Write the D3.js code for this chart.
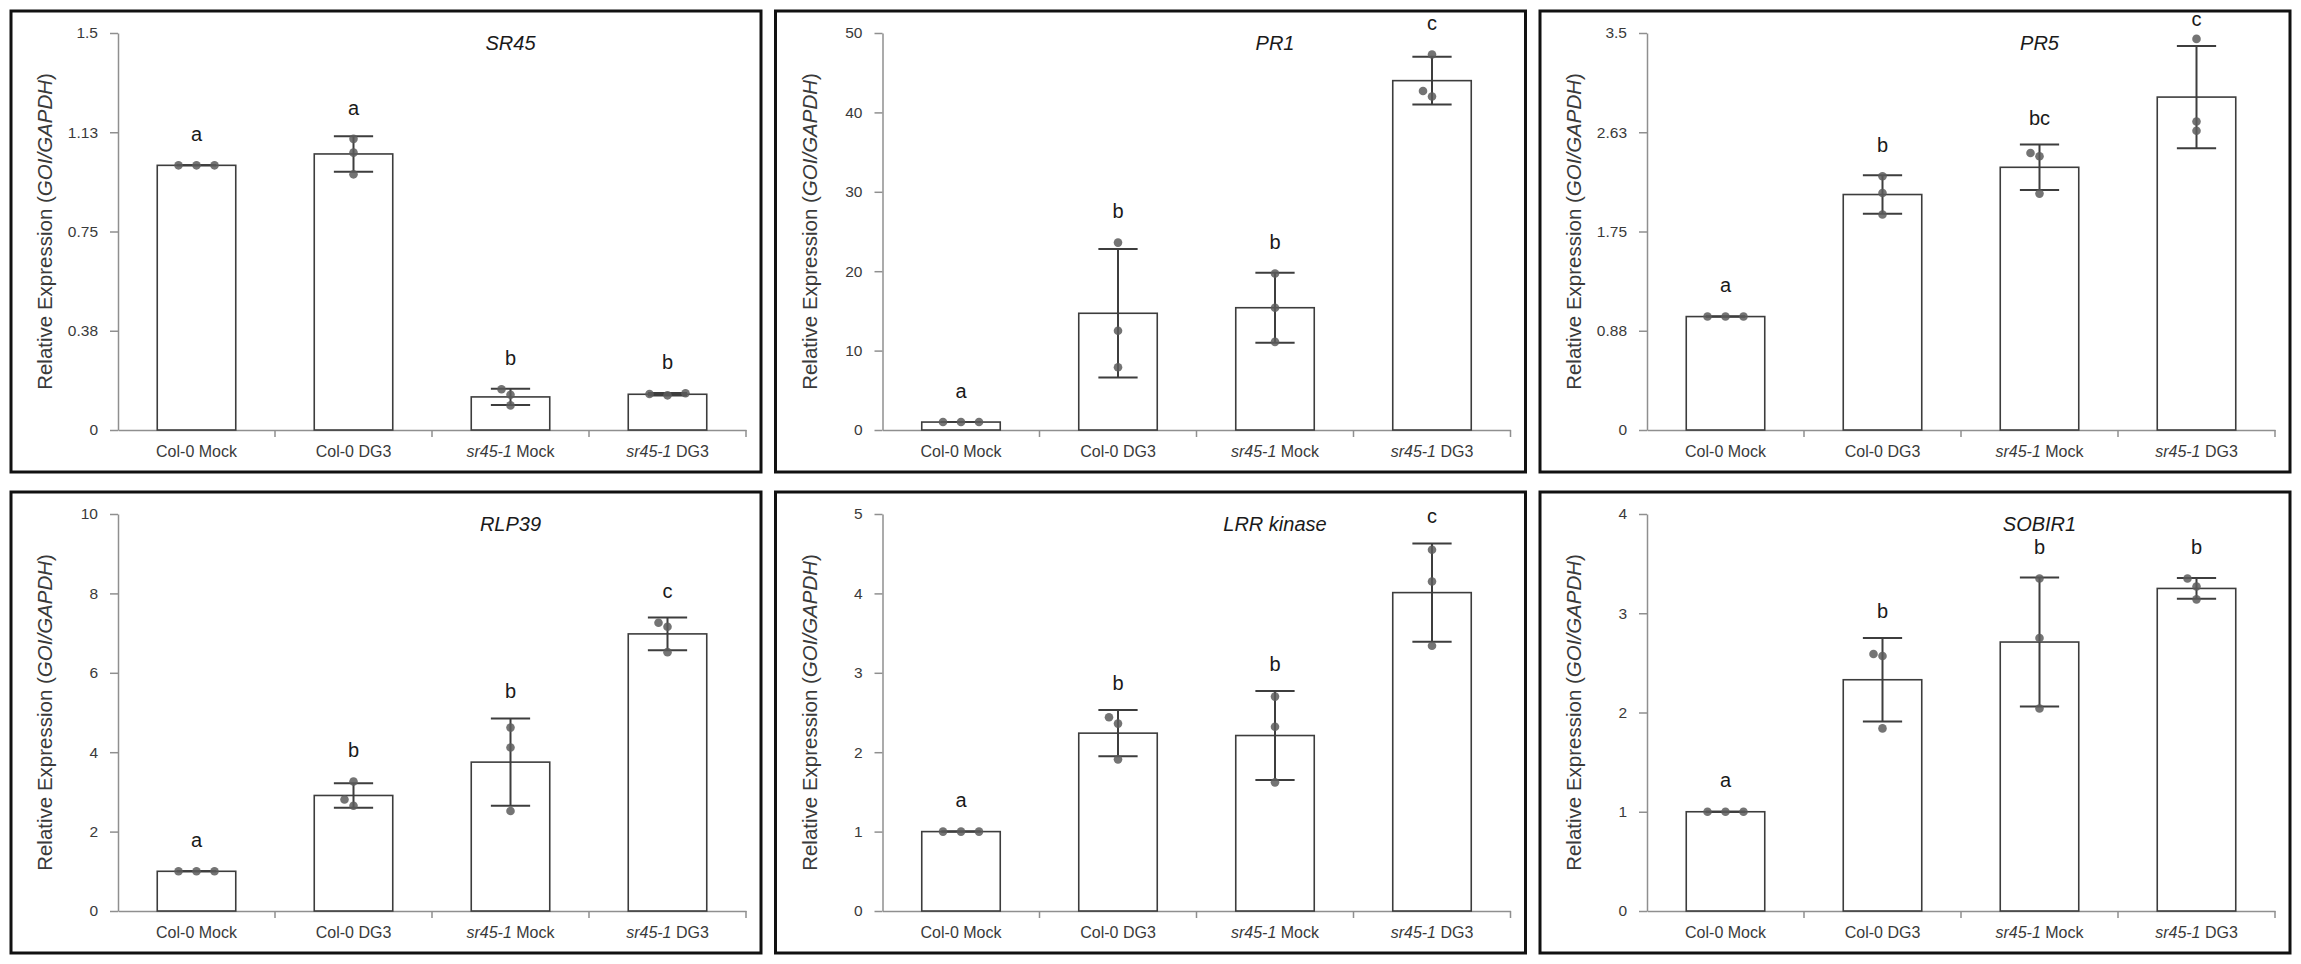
<!DOCTYPE html>
<html>
<head>
<meta charset="utf-8">
<script src="https://cdn.jsdelivr.net/npm/d3@7"></script>
<style>
  html, body { margin: 0; padding: 0; background: #fff; }
  svg { display: block; font-family: "Liberation Sans", Arial, sans-serif; }
</style>
</head>
<body>
<svg id="chart" width="2301" height="964"></svg>
<script>
// ---- data ----
const genes = ["SR45", "PR1", "PR5", "RLP39", "LRR kinase", "SOBIR1"];
const categories = ["Col-0 Mock", "Col-0 DG3", "sr45-1 Mock", "sr45-1 DG3"];

const yMax = [1.5, 50, 3.5, 10, 5, 4];
const tickValues = [
	[0, 0.375, 0.75, 1.125, 1.5],
	[0, 10, 20, 30, 40, 50],
	[0, 0.875, 1.75, 2.625, 3.5],
	[0, 2, 4, 6, 8, 10],
	[0, 1, 2, 3, 4, 5],
	[0, 1, 2, 3, 4]
];
const tickLabels = [
	["0", "0.38", "0.75", "1.13", "1.5"],
	["0", "10", "20", "30", "40", "50"],
	["0", "0.88", "1.75", "2.63", "3.5"],
	["0", "2", "4", "6", "8", "10"],
	["0", "1", "2", "3", "4", "5"],
	["0", "1", "2", "3", "4"]
];

// bar heights (means) and error bars (SD)
const means = [
	[1.0, 1.043, 0.125, 0.135],
	[1.0, 14.7, 15.4, 44.0],
	[1.0, 2.076, 2.316, 2.935],
	[1.0, 2.91, 3.75, 6.98],
	[1.0, 2.24, 2.21, 4.01],
	[1.0, 2.33, 2.71, 3.25]
];
const sds = [
	[0, 0.067, 0.031, 0.005],
	[0, 8.1, 4.4, 3.0],
	[0, 0.17, 0.2, 0.45],
	[0, 0.31, 1.1, 0.41],
	[0, 0.29, 0.56, 0.62],
	[0, 0.42, 0.65, 0.105]
];
// individual replicates
const points = [
	[[1, 1, 1], [1.1, 1.048, 0.966], [0.154, 0.133, 0.093], [0.131, 0.136, 0.139]],
	[[1, 1, 1], [23.6, 12.5, 7.9], [19.7, 15.4, 11.1], [47.3, 42.7, 42.0]],
	[[1, 1, 1], [2.237, 2.09, 1.9], [2.442, 2.413, 2.084], [3.448, 2.72, 2.638]],
	[[1, 1, 1], [3.26, 2.81, 2.65], [4.62, 4.12, 2.52], [7.26, 7.16, 6.52]],
	[[1, 1, 1], [2.44, 2.36, 1.91], [2.7, 2.32, 1.62], [4.55, 4.15, 3.34]],
	[[1, 1, 1], [2.59, 2.57, 1.84], [3.35, 2.75, 2.04], [3.35, 3.27, 3.14]]
];
const letters = [
	["a", "a", "b", "b"],
	["a", "b", "b", "c"],
	["a", "b", "bc", "c"],
	["a", "b", "b", "c"],
	["a", "b", "b", "c"],
	["a", "b", "b", "b"]
];

// ---- layout ----
const frameW = 750, frameH = 461;
const margin = { left: 107, top: 22 };
const plotW = 628, plotH = 397;
const colX = (c) => 11 + c * 764.5;
const rowY = (r) => 11 + r * 481;

const axisColor = "#8f8f8f";
const inkColor = "#3d3d3d";
const textColor = "#3a3a3a";
const dotR = 4.3;

const svg = d3.select("#chart");

// simple swarm: replicates closer than 9px vertically are spread sideways
function swarmOffsets(ys) {
	const order = ys.map((v, k) => k).sort((a, b) => ys[b] - ys[a]); // lowest value first
	const groups = [];
	order.forEach((k) => {
		const last = groups[groups.length - 1];
		if (last && Math.abs(ys[k] - ys[last[last.length - 1]]) < 9) last.push(k);
		else groups.push([k]);
	});
	const off = new Array(ys.length).fill(0);
	groups.forEach((grp) => {
		if (grp.length === 2) { off[grp[0]] = 0; off[grp[1]] = -9; }
		if (grp.length === 3) { off[grp[0]] = 0; off[grp[1]] = -18; off[grp[2]] = 18; }
	});
	return off;
}

genes.forEach((gene, i) => {
	const g = svg.append("g")
		.attr("transform", `translate(${colX(i % 3)},${rowY(Math.floor(i / 3))})`);

	g.append("rect")
		.attr("width", frameW)
		.attr("height", frameH)
		.attr("fill", "#fff")
		.attr("stroke", "#111")
		.attr("stroke-width", 3);

	const plot = g.append("g").attr("transform", `translate(${margin.left},${margin.top})`);

	const x = d3.scaleBand().domain(categories).range([0, plotW]).paddingInner(0.5).paddingOuter(0.25);
	const y = d3.scaleLinear().domain([0, yMax[i]]).range([plotH, 0]);
	const bw = x.bandwidth();
	const gap = x.step() - bw;

	// y axis
	const ya = plot.append("g")
		.call(d3.axisLeft(y)
			.tickValues(tickValues[i])
			.tickFormat((d, j) => tickLabels[i][j])
			.tickSize(8)
			.tickPadding(12)
			.tickSizeOuter(0));
	ya.select(".domain").attr("stroke", axisColor).attr("stroke-width", 1.5);
	ya.selectAll(".tick line").attr("stroke", axisColor).attr("stroke-width", 1.5);
	ya.selectAll(".tick text").attr("fill", textColor).style("font-size", "15.5px");

	// x axis: labels centred, ticks at category boundaries
	const xa = plot.append("g")
		.attr("transform", `translate(0,${plotH})`)
		.call(d3.axisBottom(x).tickSize(0).tickPadding(16).tickSizeOuter(0));
	xa.select(".domain").attr("stroke", axisColor).attr("stroke-width", 1.5);
	xa.selectAll(".tick text")
		.attr("fill", textColor)
		.style("font-size", "16px")
		.each(function (d) {
			if (d.startsWith("sr45-1")) {
				const t = d3.select(this).text(null);
				t.append("tspan").attr("font-style", "italic").text("sr45-1");
				t.append("tspan").text(d.slice(6));
			}
		});
	xa.selectAll(".bound")
		.data(categories.slice(1).map((c) => x(c) - gap / 2).concat([plotW]))
		.join("line")
		.attr("class", "bound")
		.attr("x1", (d) => d)
		.attr("x2", (d) => d)
		.attr("y1", 0)
		.attr("y2", 7)
		.attr("stroke", axisColor)
		.attr("stroke-width", 1.5);

	const rows = categories.map((c, j) => ({
		cat: c,
		mean: means[i][j],
		sd: sds[i][j],
		pts: points[i][j],
		letter: letters[i][j]
	}));

	// bars
	plot.selectAll(".bar")
		.data(rows)
		.join("rect")
		.attr("class", "bar")
		.attr("x", (d) => x(d.cat))
		.attr("y", (d) => y(d.mean))
		.attr("width", bw)
		.attr("height", (d) => plotH - y(d.mean))
		.attr("fill", "#fff")
		.attr("stroke", inkColor)
		.attr("stroke-width", 1.6);

	// error bars
	const err = plot.selectAll(".err").data(rows).join("g").attr("class", "err")
		.attr("transform", (d) => `translate(${x(d.cat) + bw / 2},0)`)
		.attr("stroke", inkColor)
		.attr("stroke-width", 2);
	err.append("line")
		.attr("y1", (d) => y(d.mean - d.sd))
		.attr("y2", (d) => y(d.mean + d.sd));
	err.append("line")
		.attr("x1", -bw / 4).attr("x2", bw / 4)
		.attr("y1", (d) => y(d.mean + d.sd))
		.attr("y2", (d) => y(d.mean + d.sd));
	err.append("line")
		.attr("x1", -bw / 4).attr("x2", bw / 4)
		.attr("y1", (d) => y(d.mean - d.sd))
		.attr("y2", (d) => y(d.mean - d.sd));

	// replicate dots
	rows.forEach((d) => {
		const ys = d.pts.map((v) => y(v));
		const off = swarmOffsets(ys);
		plot.append("g")
			.selectAll("circle")
			.data(d.pts)
			.join("circle")
			.attr("cx", (v, k) => x(d.cat) + bw / 2 + off[k])
			.attr("cy", (v) => y(v))
			.attr("r", dotR)
			.attr("fill", "#5c5c5c")
			.attr("fill-opacity", 0.85);
	});

	// significance letters (kept inside the frame)
	plot.selectAll(".letter")
		.data(rows)
		.join("text")
		.attr("class", "letter")
		.attr("x", (d) => x(d.cat) + bw / 2)
		.attr("y", (d) => Math.max(-7, Math.min(y(d.mean + d.sd), y(d3.max(d.pts)) - dotR) - 20))
		.attr("text-anchor", "middle")
		.attr("fill", "#1a1a1a")
		.style("font-size", "20px")
		.text((d) => d.letter);

	// gene title over the third group
	g.append("text")
		.attr("x", margin.left + x(categories[2]) + bw / 2)
		.attr("y", 39)
		.attr("text-anchor", "middle")
		.attr("font-style", "italic")
		.attr("fill", "#1a1a1a")
		.style("font-size", "20px")
		.text(gene);

	// y axis title
	const yt = g.append("text")
		.attr("transform", `translate(41,${margin.top + plotH / 2}) rotate(-90)`)
		.attr("text-anchor", "middle")
		.attr("fill", textColor)
		.style("font-size", "20.5px");
	yt.append("tspan").text("Relative Expression (");
	yt.append("tspan").attr("font-style", "italic").text("GOI/GAPDH");
	yt.append("tspan").text(")");
});
</script>
</body>
</html>
